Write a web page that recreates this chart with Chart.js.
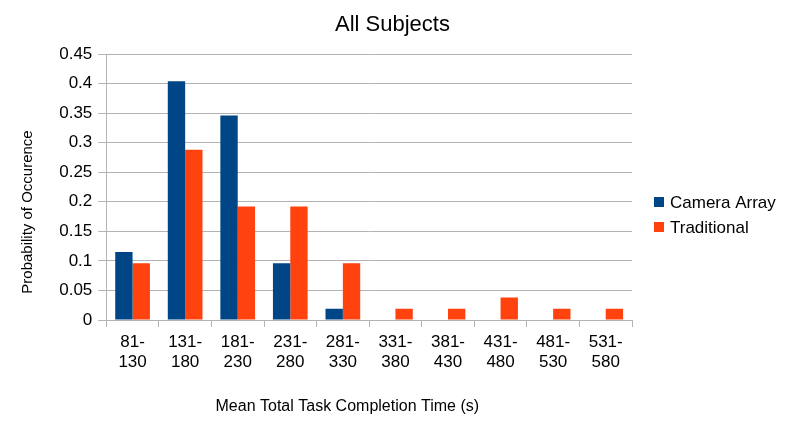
<!DOCTYPE html>
<html>
<head>
<meta charset="utf-8">
<script src="https://cdn.jsdelivr.net/npm/chart.js@4.4.1/dist/chart.umd.min.js"></script>
<style>
  html, body { margin: 0; padding: 0; background: #fff; }
  #wrap { width: 785px; height: 425px; }
</style>
</head>
<body>
<div id="wrap"><canvas id="myChart" width="785" height="425"></canvas></div>
<script>
// categories (two-line tick labels)
var categories = [
  ['81-', '130'], ['131-', '180'], ['181-', '230'], ['231-', '280'], ['281-', '330'],
  ['331-', '380'], ['381-', '430'], ['431-', '480'], ['481-', '530'], ['531-', '580']
];
var cameraArray = [0.115, 0.404, 0.346, 0.096, 0.019, 0, 0, 0, 0, 0];
var traditional = [0.096, 0.288, 0.192, 0.192, 0.096, 0.019, 0.019, 0.038, 0.019, 0.019];
var yTicks = [0, 0.05, 0.1, 0.15, 0.2, 0.25, 0.3, 0.35, 0.4, 0.45];
var chartTitle = 'All Subjects';
var xTitle = 'Mean Total Task Completion Time (s)';
var yTitle = 'Probability of Occurence';

var font = "'Liberation Sans', Arial, sans-serif";
Chart.defaults.font.family = font;
Chart.defaults.color = '#000';

// titles and legend placed the way the spreadsheet export places them
// (the axis titles there are not centred on the plot)
var decorations = {
  id: 'decorations',
  afterDraw: function (chart) {
    var c = chart.ctx;
    var area = chart.chartArea;
    c.save();
    c.fillStyle = '#000';
    c.textAlign = 'center';
    c.textBaseline = 'middle';
    c.font = '22px ' + font;
    c.fillText(chartTitle, chart.width / 2, 25);

    c.font = '16px ' + font;
    c.fillText(xTitle, area.left + 241, 407);

    c.save();
    c.translate(28, area.top + 158);
    c.rotate(-Math.PI / 2);
    c.font = '15px ' + font;
    c.fillText(yTitle, 0, 0);
    c.restore();

    var x = area.right + 22;
    var y0 = (area.top + area.bottom) / 2 + 15;
    c.font = '17px ' + font;
    c.textAlign = 'left';
    chart.data.datasets.forEach(function (ds, i) {
      var y = y0 + i * 25;
      c.fillStyle = ds.backgroundColor;
      c.fillRect(x, y - 5, 10, 10);
      c.fillStyle = '#000';
      c.fillText(ds.label, x + 16, y + 1);
    });
    c.restore();
  }
};

var ctx = document.getElementById('myChart').getContext('2d');
var chart = new Chart(ctx, {
  type: 'bar',
  data: {
    labels: categories,
    datasets: [{
      label: 'Camera Array',
      backgroundColor: '#004586',
      data: cameraArray
    }, {
      label: 'Traditional',
      backgroundColor: '#ff420e',
      data: traditional
    }]
  },
  plugins: [decorations],
  options: {
    responsive: false,
    animation: false,
    categoryPercentage: 0.66,
    barPercentage: 1.0,
    layout: { padding: { top: 54, left: 18, right: 153, bottom: 11 } },
    plugins: {
      title: { display: false },
      legend: { display: false },
      tooltip: { enabled: false }
    },
    scales: {
      x: {
        grid: {
          offset: true,
          color: '#b3b3b3',
          drawOnChartArea: false,
          tickLength: 7
        },
        border: { color: '#b3b3b3' },
        ticks: {
          color: '#000',
          font: { size: 17, lineHeight: 1.2 },
          maxRotation: 0,
          autoSkip: false,
          padding: 5
        },
        title: {
          // space only, text drawn by the plugin
          display: true,
          text: xTitle,
          color: 'rgba(0,0,0,0)',
          font: { size: 16, lineHeight: 1.2 },
          padding: { top: 17, bottom: 0 }
        }
      },
      y: {
        min: 0,
        max: 0.45,
        afterBuildTicks: function (axis) {
          axis.ticks = yTicks.map(function (v) { return { value: v }; });
        },
        grid: { color: '#b3b3b3', tickLength: 8 },
        border: { color: '#b3b3b3' },
        ticks: {
          color: '#000',
          font: { size: 17 },
          padding: 6,
          callback: function (v) { return String(+v.toFixed(2)); }
        },
        title: {
          display: true,
          text: yTitle,
          color: 'rgba(0,0,0,0)',
          font: { size: 16, lineHeight: 1.2 },
          padding: { top: 0, bottom: 16 }
        }
      }
    }
  }
});
</script>
</body>
</html>
